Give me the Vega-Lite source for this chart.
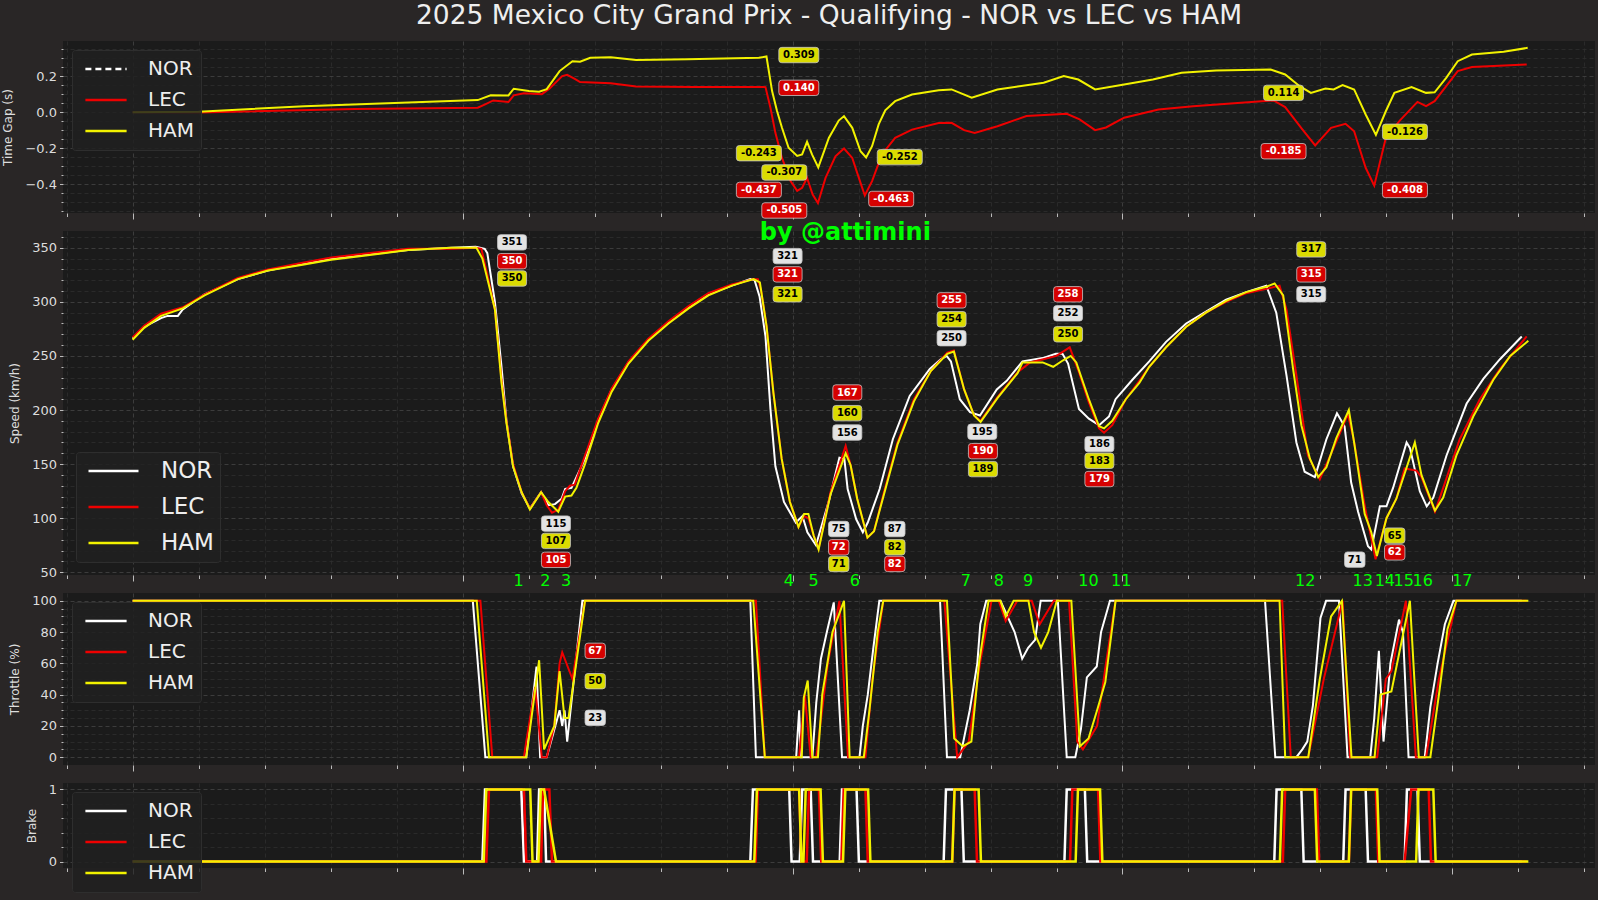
{
"$schema": "https://vega.github.io/schema/vega-lite/v6.json",
"background": "#292626",
"padding": {"left": 1, "top": 2, "right": 3, "bottom": 12},
"bounds": "flush",
"spacing": 18,
"config": {
  "view": {"stroke": null, "fill": "#1b1b1b"},
  "font": "DejaVu Sans",
  "axis": {"labelFont": "DejaVu Sans", "titleFont": "DejaVu Sans", "labelColor": "#dddddd", "titleColor": "#dddddd", "labelFontSize": 13, "titleFontSize": 12, "titleFontWeight": "normal", "domain": false, "labelOverlap": false, "labelBound": false, "tickColor": "#bbbbbb", "labelPadding": 3, "titlePadding": 10}
},
"resolve": {"scale": {"x": "independent", "y": "independent", "color": "independent", "fill": "independent"}, "legend": {"color": "independent"}, "axis": {"x": "independent", "y": "independent"}},
"datasets": {
  "gap": [
    {"distance":0,"driver":"LEC","value":0},{"distance":200,"driver":"LEC","value":-0.002},{"distance":674,"driver":"LEC","value":0.017},{"distance":1046,"driver":"LEC","value":0.025},{"distance":1070,"driver":"LEC","value":0.045},{"distance":1093,"driver":"LEC","value":0.065},{"distance":1139,"driver":"LEC","value":0.056},{"distance":1155,"driver":"LEC","value":0.093},{"distance":1186,"driver":"LEC","value":0.105},{"distance":1240,"driver":"LEC","value":0.1},{"distance":1263,"driver":"LEC","value":0.13},{"distance":1302,"driver":"LEC","value":0.2},{"distance":1317,"driver":"LEC","value":0.207},{"distance":1340,"driver":"LEC","value":0.185},{"distance":1356,"driver":"LEC","value":0.167},{"distance":1449,"driver":"LEC","value":0.16},{"distance":1526,"driver":"LEC","value":0.142},{"distance":1700,"driver":"LEC","value":0.14},{"distance":1913,"driver":"LEC","value":0.14},{"distance":1918,"driver":"LEC","value":0.139},{"distance":1933,"driver":"LEC","value":0.024},{"distance":1948,"driver":"LEC","value":-0.115},{"distance":1968,"driver":"LEC","value":-0.254},{"distance":1994,"driver":"LEC","value":-0.383},{"distance":2014,"driver":"LEC","value":-0.437},{"distance":2029,"driver":"LEC","value":-0.42},{"distance":2044,"driver":"LEC","value":-0.365},{"distance":2061,"driver":"LEC","value":-0.457},{"distance":2077,"driver":"LEC","value":-0.505},{"distance":2100,"driver":"LEC","value":-0.365},{"distance":2130,"driver":"LEC","value":-0.245},{"distance":2156,"driver":"LEC","value":-0.202},{"distance":2181,"driver":"LEC","value":-0.254},{"distance":2201,"driver":"LEC","value":-0.365},{"distance":2219,"driver":"LEC","value":-0.463},{"distance":2241,"driver":"LEC","value":-0.383},{"distance":2271,"driver":"LEC","value":-0.235},{"distance":2311,"driver":"LEC","value":-0.143},{"distance":2362,"driver":"LEC","value":-0.097},{"distance":2443,"driver":"LEC","value":-0.06},{"distance":2482,"driver":"LEC","value":-0.059},{"distance":2520,"driver":"LEC","value":-0.1},{"distance":2552,"driver":"LEC","value":-0.115},{"distance":2621,"driver":"LEC","value":-0.078},{"distance":2709,"driver":"LEC","value":-0.022},{"distance":2831,"driver":"LEC","value":-0.009},{"distance":2870,"driver":"LEC","value":-0.04},{"distance":2917,"driver":"LEC","value":-0.1},{"distance":2950,"driver":"LEC","value":-0.085},{"distance":3005,"driver":"LEC","value":-0.031},{"distance":3109,"driver":"LEC","value":0.015},{"distance":3214,"driver":"LEC","value":0.033},{"distance":3318,"driver":"LEC","value":0.046},{"distance":3458,"driver":"LEC","value":0.065},{"distance":3493,"driver":"LEC","value":0.028},{"distance":3545,"driver":"LEC","value":-0.096},{"distance":3584,"driver":"LEC","value":-0.185},{"distance":3632,"driver":"LEC","value":-0.087},{"distance":3676,"driver":"LEC","value":-0.065},{"distance":3702,"driver":"LEC","value":-0.106},{"distance":3737,"driver":"LEC","value":-0.309},{"distance":3763,"driver":"LEC","value":-0.408},{"distance":3798,"driver":"LEC","value":-0.143},{"distance":3841,"driver":"LEC","value":-0.046},{"distance":3894,"driver":"LEC","value":0.057},{"distance":3920,"driver":"LEC","value":0.033},{"distance":3946,"driver":"LEC","value":0.061},{"distance":4016,"driver":"LEC","value":0.228},{"distance":4059,"driver":"LEC","value":0.25},{"distance":4225,"driver":"LEC","value":0.265},
    {"distance":0,"driver":"HAM","value":0},{"distance":200,"driver":"HAM","value":0.002},{"distance":520,"driver":"HAM","value":0.033},{"distance":1046,"driver":"HAM","value":0.067},{"distance":1085,"driver":"HAM","value":0.094},{"distance":1139,"driver":"HAM","value":0.093},{"distance":1155,"driver":"HAM","value":0.13},{"distance":1201,"driver":"HAM","value":0.117},{"distance":1232,"driver":"HAM","value":0.113},{"distance":1255,"driver":"HAM","value":0.128},{"distance":1294,"driver":"HAM","value":0.228},{"distance":1333,"driver":"HAM","value":0.283},{"distance":1356,"driver":"HAM","value":0.28},{"distance":1387,"driver":"HAM","value":0.302},{"distance":1449,"driver":"HAM","value":0.305},{"distance":1526,"driver":"HAM","value":0.29},{"distance":1681,"driver":"HAM","value":0.294},{"distance":1898,"driver":"HAM","value":0.302},{"distance":1921,"driver":"HAM","value":0.309},{"distance":1938,"driver":"HAM","value":0.117},{"distance":1953,"driver":"HAM","value":0.006},{"distance":1968,"driver":"HAM","value":-0.087},{"distance":1988,"driver":"HAM","value":-0.198},{"distance":2014,"driver":"HAM","value":-0.243},{"distance":2029,"driver":"HAM","value":-0.235},{"distance":2044,"driver":"HAM","value":-0.165},{"distance":2059,"driver":"HAM","value":-0.235},{"distance":2078,"driver":"HAM","value":-0.307},{"distance":2110,"driver":"HAM","value":-0.143},{"distance":2140,"driver":"HAM","value":-0.047},{"distance":2156,"driver":"HAM","value":-0.022},{"distance":2181,"driver":"HAM","value":-0.087},{"distance":2206,"driver":"HAM","value":-0.217},{"distance":2223,"driver":"HAM","value":-0.252},{"distance":2241,"driver":"HAM","value":-0.189},{"distance":2261,"driver":"HAM","value":-0.068},{"distance":2281,"driver":"HAM","value":0.01},{"distance":2311,"driver":"HAM","value":0.061},{"distance":2362,"driver":"HAM","value":0.098},{"distance":2443,"driver":"HAM","value":0.122},{"distance":2482,"driver":"HAM","value":0.126},{"distance":2543,"driver":"HAM","value":0.08},{"distance":2621,"driver":"HAM","value":0.126},{"distance":2761,"driver":"HAM","value":0.163},{"distance":2822,"driver":"HAM","value":0.2},{"distance":2866,"driver":"HAM","value":0.181},{"distance":2917,"driver":"HAM","value":0.126},{"distance":3005,"driver":"HAM","value":0.154},{"distance":3092,"driver":"HAM","value":0.181},{"distance":3179,"driver":"HAM","value":0.219},{"distance":3284,"driver":"HAM","value":0.231},{"distance":3449,"driver":"HAM","value":0.237},{"distance":3493,"driver":"HAM","value":0.209},{"distance":3537,"driver":"HAM","value":0.144},{"distance":3571,"driver":"HAM","value":0.107},{"distance":3615,"driver":"HAM","value":0.131},{"distance":3640,"driver":"HAM","value":0.126},{"distance":3667,"driver":"HAM","value":0.15},{"distance":3702,"driver":"HAM","value":0.126},{"distance":3737,"driver":"HAM","value":-0.013},{"distance":3768,"driver":"HAM","value":-0.126},{"distance":3798,"driver":"HAM","value":0.005},{"distance":3824,"driver":"HAM","value":0.107},{"distance":3876,"driver":"HAM","value":0.139},{"distance":3920,"driver":"HAM","value":0.107},{"distance":3946,"driver":"HAM","value":0.11},{"distance":3981,"driver":"HAM","value":0.19},{"distance":4016,"driver":"HAM","value":0.283},{"distance":4059,"driver":"HAM","value":0.32},{"distance":4155,"driver":"HAM","value":0.335},{"distance":4228,"driver":"HAM","value":0.357}
  ],
  "gapLabels": [
    {"distance":2019,"value":0.317,"label":"0.309","driver":"HAM"},
    {"distance":2019,"value":0.135,"label":"0.140","driver":"LEC"},
    {"distance":1898,"value":-0.228,"label":"-0.243","driver":"HAM"},
    {"distance":1975,"value":-0.335,"label":"-0.307","driver":"HAM"},
    {"distance":1898,"value":-0.432,"label":"-0.437","driver":"LEC"},
    {"distance":1975,"value":-0.546,"label":"-0.505","driver":"LEC"},
    {"distance":2325,"value":-0.25,"label":"-0.252","driver":"HAM"},
    {"distance":2299,"value":-0.482,"label":"-0.463","driver":"LEC"},
    {"distance":3488,"value":0.107,"label":"0.114","driver":"HAM"},
    {"distance":3488,"value":-0.217,"label":"-0.185","driver":"LEC"},
    {"distance":3856,"value":-0.109,"label":"-0.126","driver":"HAM"},
    {"distance":3856,"value":-0.432,"label":"-0.408","driver":"LEC"}
  ],
  "speed": [
    {"distance":0,"driver":"NOR","value":266},{"distance":35,"driver":"NOR","value":277},{"distance":86,"driver":"NOR","value":285},{"distance":106,"driver":"NOR","value":287},{"distance":137,"driver":"NOR","value":287},{"distance":152,"driver":"NOR","value":293},{"distance":218,"driver":"NOR","value":307},{"distance":319,"driver":"NOR","value":321},{"distance":410,"driver":"NOR","value":329},{"distance":511,"driver":"NOR","value":335},{"distance":602,"driver":"NOR","value":340},{"distance":713,"driver":"NOR","value":344},{"distance":835,"driver":"NOR","value":348},{"distance":966,"driver":"NOR","value":350},{"distance":1040,"driver":"NOR","value":351},{"distance":1067,"driver":"NOR","value":349},{"distance":1075,"driver":"NOR","value":345},{"distance":1098,"driver":"NOR","value":300},{"distance":1118,"driver":"NOR","value":240},{"distance":1133,"driver":"NOR","value":190},{"distance":1153,"driver":"NOR","value":148},{"distance":1179,"driver":"NOR","value":123},{"distance":1204,"driver":"NOR","value":109},{"distance":1238,"driver":"NOR","value":124},{"distance":1260,"driver":"NOR","value":112},{"distance":1280,"driver":"NOR","value":113},{"distance":1300,"driver":"NOR","value":118},{"distance":1311,"driver":"NOR","value":127},{"distance":1330,"driver":"NOR","value":128},{"distance":1371,"driver":"NOR","value":155},{"distance":1411,"driver":"NOR","value":191},{"distance":1452,"driver":"NOR","value":219},{"distance":1503,"driver":"NOR","value":244},{"distance":1563,"driver":"NOR","value":265},{"distance":1624,"driver":"NOR","value":281},{"distance":1685,"driver":"NOR","value":295},{"distance":1745,"driver":"NOR","value":307},{"distance":1816,"driver":"NOR","value":315},{"distance":1872,"driver":"NOR","value":321},{"distance":1885,"driver":"NOR","value":320},{"distance":1900,"driver":"NOR","value":305},{"distance":1918,"driver":"NOR","value":268},{"distance":1933,"driver":"NOR","value":201},{"distance":1948,"driver":"NOR","value":148},{"distance":1974,"driver":"NOR","value":115},{"distance":2010,"driver":"NOR","value":96},{"distance":2030,"driver":"NOR","value":102},{"distance":2045,"driver":"NOR","value":87},{"distance":2071,"driver":"NOR","value":75},{"distance":2112,"driver":"NOR","value":118},{"distance":2142,"driver":"NOR","value":156},{"distance":2157,"driver":"NOR","value":155},{"distance":2167,"driver":"NOR","value":127},{"distance":2193,"driver":"NOR","value":99},{"distance":2213,"driver":"NOR","value":87},{"distance":2228,"driver":"NOR","value":96},{"distance":2264,"driver":"NOR","value":127},{"distance":2304,"driver":"NOR","value":173},{"distance":2355,"driver":"NOR","value":213},{"distance":2416,"driver":"NOR","value":238},{"distance":2450,"driver":"NOR","value":247},{"distance":2467,"driver":"NOR","value":250},{"distance":2480,"driver":"NOR","value":245},{"distance":2507,"driver":"NOR","value":210},{"distance":2538,"driver":"NOR","value":198},{"distance":2568,"driver":"NOR","value":195},{"distance":2619,"driver":"NOR","value":219},{"distance":2649,"driver":"NOR","value":227},{"distance":2697,"driver":"NOR","value":245},{"distance":2758,"driver":"NOR","value":248},{"distance":2798,"driver":"NOR","value":252},{"distance":2818,"driver":"NOR","value":252},{"distance":2835,"driver":"NOR","value":243},{"distance":2868,"driver":"NOR","value":201},{"distance":2898,"driver":"NOR","value":192},{"distance":2929,"driver":"NOR","value":186},{"distance":2959,"driver":"NOR","value":194},{"distance":2979,"driver":"NOR","value":210},{"distance":3030,"driver":"NOR","value":228},{"distance":3081,"driver":"NOR","value":245},{"distance":3132,"driver":"NOR","value":263},{"distance":3193,"driver":"NOR","value":280},{"distance":3253,"driver":"NOR","value":291},{"distance":3314,"driver":"NOR","value":302},{"distance":3375,"driver":"NOR","value":309},{"distance":3436,"driver":"NOR","value":315},{"distance":3466,"driver":"NOR","value":290},{"distance":3497,"driver":"NOR","value":232},{"distance":3527,"driver":"NOR","value":170},{"distance":3552,"driver":"NOR","value":143},{"distance":3583,"driver":"NOR","value":138},{"distance":3618,"driver":"NOR","value":173},{"distance":3650,"driver":"NOR","value":197},{"distance":3673,"driver":"NOR","value":185},{"distance":3693,"driver":"NOR","value":133},{"distance":3714,"driver":"NOR","value":106},{"distance":3744,"driver":"NOR","value":74},{"distance":3754,"driver":"NOR","value":71},{"distance":3780,"driver":"NOR","value":111},{"distance":3800,"driver":"NOR","value":111},{"distance":3820,"driver":"NOR","value":128},{"distance":3861,"driver":"NOR","value":170},{"distance":3871,"driver":"NOR","value":165},{"distance":3901,"driver":"NOR","value":125},{"distance":3922,"driver":"NOR","value":111},{"distance":3942,"driver":"NOR","value":119},{"distance":3982,"driver":"NOR","value":158},{"distance":4043,"driver":"NOR","value":206},{"distance":4094,"driver":"NOR","value":229},{"distance":4144,"driver":"NOR","value":247},{"distance":4210,"driver":"NOR","value":268},
    {"distance":0,"driver":"LEC","value":267},{"distance":35,"driver":"LEC","value":278},{"distance":86,"driver":"LEC","value":289},{"distance":152,"driver":"LEC","value":295},{"distance":218,"driver":"LEC","value":307},{"distance":319,"driver":"LEC","value":322},{"distance":410,"driver":"LEC","value":330},{"distance":511,"driver":"LEC","value":336},{"distance":602,"driver":"LEC","value":341},{"distance":713,"driver":"LEC","value":345},{"distance":835,"driver":"LEC","value":349},{"distance":966,"driver":"LEC","value":349},{"distance":1040,"driver":"LEC","value":350},{"distance":1057,"driver":"LEC","value":349},{"distance":1075,"driver":"LEC","value":325},{"distance":1098,"driver":"LEC","value":293},{"distance":1118,"driver":"LEC","value":228},{"distance":1133,"driver":"LEC","value":190},{"distance":1153,"driver":"LEC","value":150},{"distance":1179,"driver":"LEC","value":124},{"distance":1204,"driver":"LEC","value":109},{"distance":1238,"driver":"LEC","value":124},{"distance":1255,"driver":"LEC","value":112},{"distance":1271,"driver":"LEC","value":105},{"distance":1290,"driver":"LEC","value":108},{"distance":1311,"driver":"LEC","value":125},{"distance":1325,"driver":"LEC","value":130},{"distance":1340,"driver":"LEC","value":131},{"distance":1371,"driver":"LEC","value":158},{"distance":1411,"driver":"LEC","value":192},{"distance":1452,"driver":"LEC","value":220},{"distance":1503,"driver":"LEC","value":245},{"distance":1563,"driver":"LEC","value":266},{"distance":1624,"driver":"LEC","value":282},{"distance":1685,"driver":"LEC","value":296},{"distance":1745,"driver":"LEC","value":308},{"distance":1816,"driver":"LEC","value":316},{"distance":1882,"driver":"LEC","value":321},{"distance":1895,"driver":"LEC","value":321},{"distance":1905,"driver":"LEC","value":310},{"distance":1921,"driver":"LEC","value":278},{"distance":1942,"driver":"LEC","value":216},{"distance":1967,"driver":"LEC","value":155},{"distance":1992,"driver":"LEC","value":115},{"distance":2018,"driver":"LEC","value":92},{"distance":2035,"driver":"LEC","value":102},{"distance":2048,"driver":"LEC","value":100},{"distance":2064,"driver":"LEC","value":84},{"distance":2079,"driver":"LEC","value":72},{"distance":2115,"driver":"LEC","value":124},{"distance":2161,"driver":"LEC","value":167},{"distance":2176,"driver":"LEC","value":149},{"distance":2196,"driver":"LEC","value":118},{"distance":2227,"driver":"LEC","value":82},{"distance":2247,"driver":"LEC","value":88},{"distance":2277,"driver":"LEC","value":124},{"distance":2318,"driver":"LEC","value":170},{"distance":2368,"driver":"LEC","value":210},{"distance":2419,"driver":"LEC","value":236},{"distance":2469,"driver":"LEC","value":253},{"distance":2489,"driver":"LEC","value":255},{"distance":2520,"driver":"LEC","value":219},{"distance":2550,"driver":"LEC","value":195},{"distance":2570,"driver":"LEC","value":190},{"distance":2621,"driver":"LEC","value":212},{"distance":2682,"driver":"LEC","value":235},{"distance":2720,"driver":"LEC","value":244},{"distance":2760,"driver":"LEC","value":247},{"distance":2800,"driver":"LEC","value":250},{"distance":2840,"driver":"LEC","value":258},{"distance":2868,"driver":"LEC","value":235},{"distance":2898,"driver":"LEC","value":207},{"distance":2929,"driver":"LEC","value":183},{"distance":2944,"driver":"LEC","value":179},{"distance":2969,"driver":"LEC","value":186},{"distance":3010,"driver":"LEC","value":210},{"distance":3051,"driver":"LEC","value":227},{"distance":3081,"driver":"LEC","value":240},{"distance":3132,"driver":"LEC","value":258},{"distance":3193,"driver":"LEC","value":277},{"distance":3253,"driver":"LEC","value":290},{"distance":3314,"driver":"LEC","value":300},{"distance":3375,"driver":"LEC","value":308},{"distance":3436,"driver":"LEC","value":312},{"distance":3476,"driver":"LEC","value":315},{"distance":3497,"driver":"LEC","value":293},{"distance":3527,"driver":"LEC","value":232},{"distance":3562,"driver":"LEC","value":158},{"distance":3598,"driver":"LEC","value":136},{"distance":3640,"driver":"LEC","value":165},{"distance":3683,"driver":"LEC","value":196},{"distance":3700,"driver":"LEC","value":174},{"distance":3735,"driver":"LEC","value":110},{"distance":3767,"driver":"LEC","value":62},{"distance":3800,"driver":"LEC","value":100},{"distance":3830,"driver":"LEC","value":118},{"distance":3855,"driver":"LEC","value":146},{"distance":3891,"driver":"LEC","value":144},{"distance":3906,"driver":"LEC","value":138},{"distance":3947,"driver":"LEC","value":106},{"distance":3972,"driver":"LEC","value":128},{"distance":4022,"driver":"LEC","value":173},{"distance":4083,"driver":"LEC","value":210},{"distance":4144,"driver":"LEC","value":238},{"distance":4225,"driver":"LEC","value":268},
    {"distance":0,"driver":"HAM","value":265},{"distance":35,"driver":"HAM","value":276},{"distance":86,"driver":"HAM","value":287},{"distance":152,"driver":"HAM","value":294},{"distance":218,"driver":"HAM","value":306},{"distance":319,"driver":"HAM","value":321},{"distance":410,"driver":"HAM","value":329},{"distance":511,"driver":"HAM","value":334},{"distance":602,"driver":"HAM","value":339},{"distance":713,"driver":"HAM","value":343},{"distance":835,"driver":"HAM","value":348},{"distance":966,"driver":"HAM","value":350},{"distance":1042,"driver":"HAM","value":350},{"distance":1060,"driver":"HAM","value":340},{"distance":1098,"driver":"HAM","value":293},{"distance":1118,"driver":"HAM","value":225},{"distance":1133,"driver":"HAM","value":188},{"distance":1153,"driver":"HAM","value":148},{"distance":1179,"driver":"HAM","value":124},{"distance":1204,"driver":"HAM","value":108},{"distance":1238,"driver":"HAM","value":124},{"distance":1260,"driver":"HAM","value":115},{"distance":1290,"driver":"HAM","value":106},{"distance":1311,"driver":"HAM","value":120},{"distance":1330,"driver":"HAM","value":121},{"distance":1345,"driver":"HAM","value":128},{"distance":1371,"driver":"HAM","value":150},{"distance":1411,"driver":"HAM","value":188},{"distance":1452,"driver":"HAM","value":217},{"distance":1503,"driver":"HAM","value":243},{"distance":1563,"driver":"HAM","value":264},{"distance":1624,"driver":"HAM","value":280},{"distance":1685,"driver":"HAM","value":294},{"distance":1745,"driver":"HAM","value":306},{"distance":1816,"driver":"HAM","value":315},{"distance":1882,"driver":"HAM","value":321},{"distance":1901,"driver":"HAM","value":318},{"distance":1921,"driver":"HAM","value":278},{"distance":1942,"driver":"HAM","value":216},{"distance":1967,"driver":"HAM","value":155},{"distance":1992,"driver":"HAM","value":115},{"distance":2018,"driver":"HAM","value":92},{"distance":2035,"driver":"HAM","value":104},{"distance":2048,"driver":"HAM","value":104},{"distance":2064,"driver":"HAM","value":84},{"distance":2079,"driver":"HAM","value":71},{"distance":2115,"driver":"HAM","value":122},{"distance":2161,"driver":"HAM","value":160},{"distance":2176,"driver":"HAM","value":149},{"distance":2196,"driver":"HAM","value":118},{"distance":2227,"driver":"HAM","value":82},{"distance":2247,"driver":"HAM","value":88},{"distance":2277,"driver":"HAM","value":122},{"distance":2318,"driver":"HAM","value":168},{"distance":2368,"driver":"HAM","value":208},{"distance":2419,"driver":"HAM","value":236},{"distance":2469,"driver":"HAM","value":252},{"distance":2489,"driver":"HAM","value":254},{"distance":2520,"driver":"HAM","value":219},{"distance":2550,"driver":"HAM","value":195},{"distance":2570,"driver":"HAM","value":189},{"distance":2621,"driver":"HAM","value":211},{"distance":2682,"driver":"HAM","value":234},{"distance":2697,"driver":"HAM","value":244},{"distance":2758,"driver":"HAM","value":244},{"distance":2790,"driver":"HAM","value":240},{"distance":2820,"driver":"HAM","value":246},{"distance":2843,"driver":"HAM","value":250},{"distance":2860,"driver":"HAM","value":244},{"distance":2898,"driver":"HAM","value":210},{"distance":2929,"driver":"HAM","value":185},{"distance":2944,"driver":"HAM","value":183},{"distance":2969,"driver":"HAM","value":190},{"distance":3010,"driver":"HAM","value":210},{"distance":3051,"driver":"HAM","value":225},{"distance":3081,"driver":"HAM","value":240},{"distance":3132,"driver":"HAM","value":258},{"distance":3193,"driver":"HAM","value":277},{"distance":3253,"driver":"HAM","value":290},{"distance":3314,"driver":"HAM","value":301},{"distance":3375,"driver":"HAM","value":309},{"distance":3436,"driver":"HAM","value":314},{"distance":3461,"driver":"HAM","value":317},{"distance":3487,"driver":"HAM","value":306},{"distance":3517,"driver":"HAM","value":238},{"distance":3542,"driver":"HAM","value":186},{"distance":3568,"driver":"HAM","value":155},{"distance":3593,"driver":"HAM","value":138},{"distance":3618,"driver":"HAM","value":147},{"distance":3648,"driver":"HAM","value":174},{"distance":3686,"driver":"HAM","value":200},{"distance":3703,"driver":"HAM","value":168},{"distance":3734,"driver":"HAM","value":104},{"distance":3754,"driver":"HAM","value":87},{"distance":3771,"driver":"HAM","value":65},{"distance":3800,"driver":"HAM","value":100},{"distance":3830,"driver":"HAM","value":118},{"distance":3886,"driver":"HAM","value":170},{"distance":3906,"driver":"HAM","value":140},{"distance":3947,"driver":"HAM","value":107},{"distance":3972,"driver":"HAM","value":119},{"distance":4012,"driver":"HAM","value":158},{"distance":4063,"driver":"HAM","value":194},{"distance":4124,"driver":"HAM","value":228},{"distance":4175,"driver":"HAM","value":250},{"distance":4230,"driver":"HAM","value":264}
  ],
  "speedLabels": [
    {"distance":1150,"value":355,"label":"351","driver":"NOR"},
    {"distance":1150,"value":337.6,"label":"350","driver":"LEC"},
    {"distance":1150,"value":321.6,"label":"350","driver":"HAM"},
    {"distance":1283,"value":95,"label":"115","driver":"NOR"},
    {"distance":1283,"value":79,"label":"107","driver":"HAM"},
    {"distance":1283,"value":61.5,"label":"105","driver":"LEC"},
    {"distance":1985,"value":342.3,"label":"321","driver":"NOR"},
    {"distance":1985,"value":325.4,"label":"321","driver":"LEC"},
    {"distance":1985,"value":307,"label":"321","driver":"HAM"},
    {"distance":2166,"value":216.2,"label":"167","driver":"LEC"},
    {"distance":2166,"value":197.1,"label":"160","driver":"HAM"},
    {"distance":2166,"value":179.2,"label":"156","driver":"NOR"},
    {"distance":2140,"value":90,"label":"75","driver":"NOR"},
    {"distance":2140,"value":73.1,"label":"72","driver":"LEC"},
    {"distance":2140,"value":57.7,"label":"71","driver":"HAM"},
    {"distance":2310,"value":90,"label":"87","driver":"NOR"},
    {"distance":2310,"value":73.1,"label":"82","driver":"HAM"},
    {"distance":2310,"value":57.7,"label":"82","driver":"LEC"},
    {"distance":2482,"value":301.4,"label":"255","driver":"LEC"},
    {"distance":2482,"value":283.9,"label":"254","driver":"HAM"},
    {"distance":2482,"value":266.4,"label":"250","driver":"NOR"},
    {"distance":2575,"value":179.9,"label":"195","driver":"NOR"},
    {"distance":2577,"value":162,"label":"190","driver":"LEC"},
    {"distance":2577,"value":145.4,"label":"189","driver":"HAM"},
    {"distance":2835,"value":307,"label":"258","driver":"LEC"},
    {"distance":2835,"value":289.4,"label":"252","driver":"NOR"},
    {"distance":2835,"value":270,"label":"250","driver":"HAM"},
    {"distance":2930,"value":168.5,"label":"186","driver":"NOR"},
    {"distance":2930,"value":153.1,"label":"183","driver":"HAM"},
    {"distance":2930,"value":136.2,"label":"179","driver":"LEC"},
    {"distance":3572,"value":348.5,"label":"317","driver":"HAM"},
    {"distance":3572,"value":325.4,"label":"315","driver":"LEC"},
    {"distance":3572,"value":307,"label":"315","driver":"NOR"},
    {"distance":3704,"value":61.7,"label":"71","driver":"NOR"},
    {"distance":3825,"value":83.9,"label":"65","driver":"HAM"},
    {"distance":3825,"value":68.4,"label":"62","driver":"LEC"}
  ],
  "corners": [
    {"distance":1170,"value":42,"label":"1"},{"distance":1251,"value":42,"label":"2"},{"distance":1314,"value":42,"label":"3"},{"distance":1989,"value":42,"label":"4"},{"distance":2064,"value":42,"label":"5"},{"distance":2189,"value":42,"label":"6"},{"distance":2525,"value":42,"label":"7"},{"distance":2625,"value":42,"label":"8"},{"distance":2714,"value":42,"label":"9"},{"distance":2897,"value":42,"label":"10"},{"distance":2996,"value":42,"label":"11"},{"distance":3554,"value":42,"label":"12"},{"distance":3728,"value":42,"label":"13"},{"distance":3795,"value":42,"label":"14"},{"distance":3852,"value":42,"label":"15"},{"distance":3910,"value":42,"label":"16"},{"distance":4030,"value":42,"label":"17"}
  ],
  "watermark": [{"distance":2160,"value":364,"label":"by @attimini"}],
  "throttle": [
    {"distance":0,"driver":"NOR","value":100},{"distance":1031,"driver":"NOR","value":100},{"distance":1069,"driver":"NOR","value":0},{"distance":1193,"driver":"NOR","value":0},{"distance":1224,"driver":"NOR","value":58},{"distance":1235,"driver":"NOR","value":0},{"distance":1255,"driver":"NOR","value":0},{"distance":1294,"driver":"NOR","value":30},{"distance":1302,"driver":"NOR","value":20},{"distance":1309,"driver":"NOR","value":30},{"distance":1317,"driver":"NOR","value":10},{"distance":1363,"driver":"NOR","value":100},{"distance":1872,"driver":"NOR","value":100},{"distance":1889,"driver":"NOR","value":0},{"distance":2011,"driver":"NOR","value":0},{"distance":2020,"driver":"NOR","value":30},{"distance":2025,"driver":"NOR","value":0},{"distance":2060,"driver":"NOR","value":0},{"distance":2072,"driver":"NOR","value":35},{"distance":2086,"driver":"NOR","value":63},{"distance":2104,"driver":"NOR","value":80},{"distance":2125,"driver":"NOR","value":99},{"distance":2150,"driver":"NOR","value":0},{"distance":2203,"driver":"NOR","value":0},{"distance":2213,"driver":"NOR","value":20},{"distance":2228,"driver":"NOR","value":40},{"distance":2245,"driver":"NOR","value":70},{"distance":2263,"driver":"NOR","value":100},{"distance":2447,"driver":"NOR","value":100},{"distance":2468,"driver":"NOR","value":0},{"distance":2508,"driver":"NOR","value":0},{"distance":2537,"driver":"NOR","value":30},{"distance":2560,"driver":"NOR","value":60},{"distance":2569,"driver":"NOR","value":85},{"distance":2587,"driver":"NOR","value":100},{"distance":2630,"driver":"NOR","value":100},{"distance":2673,"driver":"NOR","value":80},{"distance":2696,"driver":"NOR","value":63},{"distance":2714,"driver":"NOR","value":70},{"distance":2735,"driver":"NOR","value":75},{"distance":2752,"driver":"NOR","value":100},{"distance":2804,"driver":"NOR","value":100},{"distance":2831,"driver":"NOR","value":0},{"distance":2857,"driver":"NOR","value":0},{"distance":2874,"driver":"NOR","value":18},{"distance":2892,"driver":"NOR","value":51},{"distance":2922,"driver":"NOR","value":58},{"distance":2935,"driver":"NOR","value":80},{"distance":2962,"driver":"NOR","value":100},{"distance":3432,"driver":"NOR","value":100},{"distance":3463,"driver":"NOR","value":0},{"distance":3527,"driver":"NOR","value":0},{"distance":3545,"driver":"NOR","value":5},{"distance":3560,"driver":"NOR","value":10},{"distance":3577,"driver":"NOR","value":33},{"distance":3600,"driver":"NOR","value":89},{"distance":3617,"driver":"NOR","value":100},{"distance":3656,"driver":"NOR","value":100},{"distance":3682,"driver":"NOR","value":0},{"distance":3751,"driver":"NOR","value":0},{"distance":3763,"driver":"NOR","value":25},{"distance":3777,"driver":"NOR","value":68},{"distance":3791,"driver":"NOR","value":10},{"distance":3812,"driver":"NOR","value":60},{"distance":3838,"driver":"NOR","value":88},{"distance":3850,"driver":"NOR","value":80},{"distance":3867,"driver":"NOR","value":0},{"distance":3916,"driver":"NOR","value":0},{"distance":3933,"driver":"NOR","value":32},{"distance":3955,"driver":"NOR","value":60},{"distance":3977,"driver":"NOR","value":85},{"distance":4003,"driver":"NOR","value":100},{"distance":4210,"driver":"NOR","value":100},
    {"distance":0,"driver":"LEC","value":100},{"distance":1054,"driver":"LEC","value":100},{"distance":1090,"driver":"LEC","value":0},{"distance":1186,"driver":"LEC","value":0},{"distance":1193,"driver":"LEC","value":10},{"distance":1220,"driver":"LEC","value":45},{"distance":1240,"driver":"LEC","value":0},{"distance":1255,"driver":"LEC","value":0},{"distance":1278,"driver":"LEC","value":20},{"distance":1294,"driver":"LEC","value":60},{"distance":1302,"driver":"LEC","value":67},{"distance":1333,"driver":"LEC","value":50},{"distance":1371,"driver":"LEC","value":100},{"distance":1889,"driver":"LEC","value":100},{"distance":1916,"driver":"LEC","value":0},{"distance":2020,"driver":"LEC","value":0},{"distance":2037,"driver":"LEC","value":40},{"distance":2055,"driver":"LEC","value":0},{"distance":2072,"driver":"LEC","value":0},{"distance":2107,"driver":"LEC","value":60},{"distance":2142,"driver":"LEC","value":100},{"distance":2168,"driver":"LEC","value":0},{"distance":2221,"driver":"LEC","value":0},{"distance":2242,"driver":"LEC","value":50},{"distance":2275,"driver":"LEC","value":100},{"distance":2460,"driver":"LEC","value":100},{"distance":2499,"driver":"LEC","value":0},{"distance":2534,"driver":"LEC","value":10},{"distance":2568,"driver":"LEC","value":60},{"distance":2603,"driver":"LEC","value":100},{"distance":2625,"driver":"LEC","value":100},{"distance":2646,"driver":"LEC","value":87},{"distance":2681,"driver":"LEC","value":100},{"distance":2725,"driver":"LEC","value":100},{"distance":2749,"driver":"LEC","value":85},{"distance":2792,"driver":"LEC","value":100},{"distance":2838,"driver":"LEC","value":100},{"distance":2863,"driver":"LEC","value":10},{"distance":2880,"driver":"LEC","value":5},{"distance":2923,"driver":"LEC","value":20},{"distance":2950,"driver":"LEC","value":60},{"distance":2979,"driver":"LEC","value":100},{"distance":3484,"driver":"LEC","value":100},{"distance":3510,"driver":"LEC","value":0},{"distance":3563,"driver":"LEC","value":0},{"distance":3610,"driver":"LEC","value":50},{"distance":3667,"driver":"LEC","value":100},{"distance":3690,"driver":"LEC","value":0},{"distance":3772,"driver":"LEC","value":0},{"distance":3798,"driver":"LEC","value":50},{"distance":3815,"driver":"LEC","value":55},{"distance":3859,"driver":"LEC","value":100},{"distance":3889,"driver":"LEC","value":0},{"distance":3920,"driver":"LEC","value":0},{"distance":3959,"driver":"LEC","value":50},{"distance":4012,"driver":"LEC","value":100},{"distance":4225,"driver":"LEC","value":100},
    {"distance":0,"driver":"HAM","value":100},{"distance":1043,"driver":"HAM","value":100},{"distance":1080,"driver":"HAM","value":0},{"distance":1193,"driver":"HAM","value":0},{"distance":1232,"driver":"HAM","value":62},{"distance":1247,"driver":"HAM","value":5},{"distance":1278,"driver":"HAM","value":20},{"distance":1294,"driver":"HAM","value":55},{"distance":1309,"driver":"HAM","value":25},{"distance":1321,"driver":"HAM","value":25},{"distance":1371,"driver":"HAM","value":100},{"distance":1881,"driver":"HAM","value":100},{"distance":1916,"driver":"HAM","value":0},{"distance":2028,"driver":"HAM","value":0},{"distance":2034,"driver":"HAM","value":38},{"distance":2046,"driver":"HAM","value":49},{"distance":2060,"driver":"HAM","value":0},{"distance":2077,"driver":"HAM","value":0},{"distance":2090,"driver":"HAM","value":40},{"distance":2121,"driver":"HAM","value":80},{"distance":2156,"driver":"HAM","value":100},{"distance":2173,"driver":"HAM","value":0},{"distance":2216,"driver":"HAM","value":0},{"distance":2233,"driver":"HAM","value":30},{"distance":2258,"driver":"HAM","value":80},{"distance":2275,"driver":"HAM","value":100},{"distance":2468,"driver":"HAM","value":100},{"distance":2490,"driver":"HAM","value":12},{"distance":2516,"driver":"HAM","value":7},{"distance":2542,"driver":"HAM","value":10},{"distance":2565,"driver":"HAM","value":60},{"distance":2594,"driver":"HAM","value":100},{"distance":2630,"driver":"HAM","value":100},{"distance":2646,"driver":"HAM","value":90},{"distance":2670,"driver":"HAM","value":100},{"distance":2715,"driver":"HAM","value":100},{"distance":2732,"driver":"HAM","value":80},{"distance":2753,"driver":"HAM","value":70},{"distance":2775,"driver":"HAM","value":80},{"distance":2801,"driver":"HAM","value":100},{"distance":2845,"driver":"HAM","value":100},{"distance":2871,"driver":"HAM","value":7},{"distance":2897,"driver":"HAM","value":12},{"distance":2923,"driver":"HAM","value":30},{"distance":2948,"driver":"HAM","value":48},{"distance":2979,"driver":"HAM","value":100},{"distance":3476,"driver":"HAM","value":100},{"distance":3493,"driver":"HAM","value":0},{"distance":3563,"driver":"HAM","value":0},{"distance":3598,"driver":"HAM","value":50},{"distance":3632,"driver":"HAM","value":90},{"distance":3665,"driver":"HAM","value":100},{"distance":3694,"driver":"HAM","value":0},{"distance":3764,"driver":"HAM","value":0},{"distance":3782,"driver":"HAM","value":40},{"distance":3815,"driver":"HAM","value":42},{"distance":3871,"driver":"HAM","value":100},{"distance":3898,"driver":"HAM","value":0},{"distance":3933,"driver":"HAM","value":0},{"distance":3959,"driver":"HAM","value":40},{"distance":3985,"driver":"HAM","value":82},{"distance":4012,"driver":"HAM","value":100},{"distance":4230,"driver":"HAM","value":100}
  ],
  "throttleLabels": [
    {"distance":1402,"value":68,"label":"67","driver":"LEC"},
    {"distance":1402,"value":48.6,"label":"50","driver":"HAM"},
    {"distance":1402,"value":25.2,"label":"23","driver":"NOR"}
  ],
  "brake": [
    {"distance":0,"driver":"NOR","value":0},{"distance":1060,"driver":"NOR","value":0},{"distance":1068,"driver":"NOR","value":1},{"distance":1178,"driver":"NOR","value":1},{"distance":1186,"driver":"NOR","value":0},{"distance":1226,"driver":"NOR","value":0},{"distance":1232,"driver":"NOR","value":1},{"distance":1247,"driver":"NOR","value":1},{"distance":1253,"driver":"NOR","value":0},{"distance":1872,"driver":"NOR","value":0},{"distance":1880,"driver":"NOR","value":1},{"distance":1990,"driver":"NOR","value":1},{"distance":1997,"driver":"NOR","value":0},{"distance":2022,"driver":"NOR","value":0},{"distance":2029,"driver":"NOR","value":1},{"distance":2055,"driver":"NOR","value":1},{"distance":2062,"driver":"NOR","value":0},{"distance":2143,"driver":"NOR","value":0},{"distance":2150,"driver":"NOR","value":1},{"distance":2194,"driver":"NOR","value":1},{"distance":2201,"driver":"NOR","value":0},{"distance":2458,"driver":"NOR","value":0},{"distance":2465,"driver":"NOR","value":1},{"distance":2512,"driver":"NOR","value":1},{"distance":2519,"driver":"NOR","value":0},{"distance":2824,"driver":"NOR","value":0},{"distance":2831,"driver":"NOR","value":1},{"distance":2886,"driver":"NOR","value":1},{"distance":2893,"driver":"NOR","value":0},{"distance":3460,"driver":"NOR","value":0},{"distance":3467,"driver":"NOR","value":1},{"distance":3542,"driver":"NOR","value":1},{"distance":3549,"driver":"NOR","value":0},{"distance":3669,"driver":"NOR","value":0},{"distance":3676,"driver":"NOR","value":1},{"distance":3737,"driver":"NOR","value":1},{"distance":3744,"driver":"NOR","value":0},{"distance":3855,"driver":"NOR","value":0},{"distance":3862,"driver":"NOR","value":1},{"distance":3894,"driver":"NOR","value":1},{"distance":3901,"driver":"NOR","value":0},{"distance":4210,"driver":"NOR","value":0},
    {"distance":0,"driver":"LEC","value":0},{"distance":1072,"driver":"LEC","value":0},{"distance":1080,"driver":"LEC","value":1},{"distance":1186,"driver":"LEC","value":1},{"distance":1193,"driver":"LEC","value":0},{"distance":1238,"driver":"LEC","value":0},{"distance":1244,"driver":"LEC","value":1},{"distance":1263,"driver":"LEC","value":1},{"distance":1271,"driver":"LEC","value":0},{"distance":1888,"driver":"LEC","value":0},{"distance":1895,"driver":"LEC","value":1},{"distance":2020,"driver":"LEC","value":1},{"distance":2027,"driver":"LEC","value":0},{"distance":2043,"driver":"LEC","value":0},{"distance":2050,"driver":"LEC","value":1},{"distance":2080,"driver":"LEC","value":1},{"distance":2087,"driver":"LEC","value":0},{"distance":2148,"driver":"LEC","value":0},{"distance":2155,"driver":"LEC","value":1},{"distance":2221,"driver":"LEC","value":1},{"distance":2228,"driver":"LEC","value":0},{"distance":2484,"driver":"LEC","value":0},{"distance":2491,"driver":"LEC","value":1},{"distance":2552,"driver":"LEC","value":1},{"distance":2559,"driver":"LEC","value":0},{"distance":2841,"driver":"LEC","value":0},{"distance":2848,"driver":"LEC","value":1},{"distance":2926,"driver":"LEC","value":1},{"distance":2933,"driver":"LEC","value":0},{"distance":3486,"driver":"LEC","value":0},{"distance":3493,"driver":"LEC","value":1},{"distance":3589,"driver":"LEC","value":1},{"distance":3596,"driver":"LEC","value":0},{"distance":3686,"driver":"LEC","value":0},{"distance":3693,"driver":"LEC","value":1},{"distance":3768,"driver":"LEC","value":1},{"distance":3775,"driver":"LEC","value":0},{"distance":3855,"driver":"LEC","value":0},{"distance":3875,"driver":"LEC","value":1},{"distance":3928,"driver":"LEC","value":1},{"distance":3935,"driver":"LEC","value":0},{"distance":4225,"driver":"LEC","value":0},
    {"distance":0,"driver":"HAM","value":0},{"distance":1064,"driver":"HAM","value":0},{"distance":1072,"driver":"HAM","value":1},{"distance":1205,"driver":"HAM","value":1},{"distance":1212,"driver":"HAM","value":0},{"distance":1230,"driver":"HAM","value":0},{"distance":1237,"driver":"HAM","value":1},{"distance":1247,"driver":"HAM","value":1},{"distance":1283,"driver":"HAM","value":0},{"distance":1884,"driver":"HAM","value":0},{"distance":1892,"driver":"HAM","value":1},{"distance":2020,"driver":"HAM","value":1},{"distance":2027,"driver":"HAM","value":0},{"distance":2033,"driver":"HAM","value":0},{"distance":2040,"driver":"HAM","value":1},{"distance":2085,"driver":"HAM","value":1},{"distance":2092,"driver":"HAM","value":0},{"distance":2153,"driver":"HAM","value":0},{"distance":2160,"driver":"HAM","value":1},{"distance":2229,"driver":"HAM","value":1},{"distance":2236,"driver":"HAM","value":0},{"distance":2484,"driver":"HAM","value":0},{"distance":2491,"driver":"HAM","value":1},{"distance":2564,"driver":"HAM","value":1},{"distance":2571,"driver":"HAM","value":0},{"distance":2858,"driver":"HAM","value":0},{"distance":2865,"driver":"HAM","value":1},{"distance":2932,"driver":"HAM","value":1},{"distance":2939,"driver":"HAM","value":0},{"distance":3477,"driver":"HAM","value":0},{"distance":3484,"driver":"HAM","value":1},{"distance":3583,"driver":"HAM","value":1},{"distance":3590,"driver":"HAM","value":0},{"distance":3686,"driver":"HAM","value":0},{"distance":3693,"driver":"HAM","value":1},{"distance":3772,"driver":"HAM","value":1},{"distance":3779,"driver":"HAM","value":0},{"distance":3890,"driver":"HAM","value":0},{"distance":3897,"driver":"HAM","value":1},{"distance":3942,"driver":"HAM","value":1},{"distance":3949,"driver":"HAM","value":0},{"distance":4230,"driver":"HAM","value":0}
  ]
},
"vconcat": [
  {
    "width": 1532, "height": 172,
    "title": {"text": "2025 Mexico City Grand Prix - Qualifying - NOR vs LEC vs HAM", "fontSize": 26.5, "font": "DejaVu Sans", "fontWeight": "normal", "color": "#eeeeee", "anchor": "middle", "frame": "group", "offset": 12},
    "layer": [
      {
        "data": {"name": "gap"},
        "mark": {"type": "line", "strokeWidth": 2},
        "encoding": {
          "x": {"field":"distance","type":"quantitative","scale":{"domain":[-211,4432],"nice":false,"zero":false},"axis":{"values":[-200,0,200,400,600,800,1000,1200,1400,1600,1800,2000,2200,2400,2600,2800,3000,3200,3400,3600,3800,4000,4200,4400],"tickCount":1000,"labels":false,"title":null,"tickWidth":1,"tickSize":{"condition":{"test":"datum.value % 1000 === 0","value":6},"value":3.5},"grid":true,"gridColor":{"condition":{"test":"datum.value % 1000 === 0","value":"#454545"},"value":"#2f2f2f"},"gridDash":[4,3],"gridWidth":0.8}},
          "y": {"field":"value","type":"quantitative","scale":{"domain":[-0.56,0.395],"nice":false,"zero":false},"axis":{"title":"Time Gap (s)","labelOverlap":false,"tickCount":1000,"values":[-0.55,-0.5,-0.45,-0.4,-0.35,-0.3,-0.25,-0.2,-0.15,-0.1,-0.05,0,0.05,0.1,0.15,0.2,0.25,0.3,0.35],"labelExpr":"abs(datum.value*5-round(datum.value*5))<0.001 ? format(datum.value,'.1f') : ''","labelFontSize":{"condition":{"test":"abs(datum.value*5-round(datum.value*5))<0.001","value":13},"value":0},"tickSize":{"condition":{"test":"abs(datum.value*5-round(datum.value*5))<0.001","value":3.5},"value":2},"grid":true,"gridColor":{"condition":{"test":"abs(datum.value*5-round(datum.value*5))<0.001","value":"#454545"},"value":"#2f2f2f"},"gridDash":[4,3],"gridWidth":0.8}},
          "color": {"field":"driver","type":"nominal","scale":{"domain":["NOR","LEC","HAM"],"range":["#ffffff","#ee0000","#f2f200"]},
            "legend":{"title":null,"orient":"top-left","offset":9,"fillColor":"rgba(32,32,32,0.85)","strokeColor":"#2e2e2e","cornerRadius":3,"padding":7,"clipHeight":24,"symbolType":"stroke","symbolSize":1700,"symbolStrokeWidth":2.5,"symbolOffset":5,"labelFontSize":20,"labelColor":"#eeeeee","labelFont":"DejaVu Sans","rowPadding":7,"labelOffset":20,"encode":{"symbols":{"update":{"strokeDash":{"signal":"datum.value === 'NOR' ? [6,4] : [1,0]"}}}}}}
        }
      },
      {
        "mark": {"type": "rule", "strokeWidth": 2, "strokeDash": [7,5]},
        "encoding": {
          "y": {"datum": 0, "type": "quantitative"},
          "color": {"datum": "NOR", "type": "nominal"}
        }
      },
      {
        "data": {"name": "gapLabels"},
        "transform": [{"filter": "length(datum.label) == 5"}],
        "mark": {"type": "point", "shape": "M-1.7,-0.77 L1.7,-0.77 Q2,-0.77 2,-0.47 L2,0.47 Q2,0.77 1.7,0.77 L-1.7,0.77 Q-2,0.77 -2,0.47 L-2,-0.47 Q-2,-0.77 -1.7,-0.77 Z", "size": 400, "filled": true, "opacity": 0.95, "stroke": "#cfcfcf", "strokeWidth": 0.8},
        "encoding": {
          "x": {"field":"distance","type":"quantitative"},
          "y": {"field":"value","type":"quantitative"},
          "fill": {"field":"driver","type":"nominal","scale":{"domain":["NOR","LEC","HAM"],"range":["#eeeeee","#e00000","#e6e600"]},"legend":null}
        }
      },
      {
        "data": {"name": "gapLabels"},
        "transform": [{"filter": "length(datum.label) == 6"}],
        "mark": {"type": "point", "shape": "M-1.95,-0.77 L1.95,-0.77 Q2.25,-0.77 2.25,-0.47 L2.25,0.47 Q2.25,0.77 1.95,0.77 L-1.95,0.77 Q-2.25,0.77 -2.25,0.47 L-2.25,-0.47 Q-2.25,-0.77 -1.95,-0.77 Z", "size": 400, "filled": true, "opacity": 0.95, "stroke": "#cfcfcf", "strokeWidth": 0.8},
        "encoding": {
          "x": {"field":"distance","type":"quantitative"},
          "y": {"field":"value","type":"quantitative"},
          "fill": {"field":"driver","type":"nominal","scale":{"domain":["NOR","LEC","HAM"],"range":["#eeeeee","#e00000","#e6e600"]},"legend":null}
        }
      },
      {
        "data": {"name": "gapLabels"},
        "mark": {"type": "text", "font": "DejaVu Sans", "fontSize": 10, "fontWeight": "bold", "align": "center", "baseline": "middle"},
        "encoding": {
          "x": {"field":"distance","type":"quantitative"},
          "y": {"field":"value","type":"quantitative"},
          "text": {"field": "label"},
          "color": {"condition": {"test": "datum.driver === 'LEC'", "value": "#ffffff"}, "value": "#000000"}
        }
      }
    ]
  },
  {
    "width": 1532, "height": 344,
    "layer": [
      {
        "data": {"name": "speed"},
        "mark": {"type": "line", "strokeWidth": 2},
        "encoding": {
          "x": {"field":"distance","type":"quantitative","scale":{"domain":[-211,4432],"nice":false,"zero":false},"axis":{"values":[-200,0,200,400,600,800,1000,1200,1400,1600,1800,2000,2200,2400,2600,2800,3000,3200,3400,3600,3800,4000,4200,4400],"tickCount":1000,"labels":false,"title":null,"tickWidth":1,"tickSize":{"condition":{"test":"datum.value % 1000 === 0","value":6},"value":3.5},"grid":true,"gridColor":{"condition":{"test":"datum.value % 1000 === 0","value":"#454545"},"value":"#2f2f2f"},"gridDash":[4,3],"gridWidth":0.8}},
          "y": {"field":"value","type":"quantitative","scale":{"domain":[47.5,365.5],"nice":false,"zero":false},"axis":{"title":"Speed (km/h)","labelOverlap":false,"tickCount":1000,"values":[50,60,70,80,90,100,110,120,130,140,150,160,170,180,190,200,210,220,230,240,250,260,270,280,290,300,310,320,330,340,350,360],"labelExpr":"datum.value % 50 === 0 ? format(datum.value,'d') : ''","labelFontSize":{"condition":{"test":"datum.value % 50 === 0","value":13},"value":0},"tickSize":{"condition":{"test":"datum.value % 50 === 0","value":3.5},"value":2},"grid":true,"gridColor":{"condition":{"test":"datum.value % 50 === 0","value":"#454545"},"value":"#2f2f2f"},"gridDash":[4,3],"gridWidth":0.8}},
          "color": {"field":"driver","type":"nominal","scale":{"domain":["NOR","LEC","HAM"],"range":["#ffffff","#ee0000","#f2f200"]},
            "legend":{"title":null,"orient":"bottom-left","offset":13,"fillColor":"rgba(32,32,32,0.85)","strokeColor":"#2e2e2e","cornerRadius":3,"padding":6,"clipHeight":26,"symbolType":"stroke","symbolSize":2500,"symbolStrokeWidth":2.5,"symbolOffset":5,"labelFontSize":23,"labelColor":"#eeeeee","labelFont":"DejaVu Sans","rowPadding":10,"labelOffset":21}}
        }
      },
      {
        "data": {"name": "speedLabels"},
        "transform": [{"filter": "length(datum.label) == 3"}],
        "mark": {"type": "point", "shape": "M-1.15,-0.77 L1.15,-0.77 Q1.45,-0.77 1.45,-0.47 L1.45,0.47 Q1.45,0.77 1.15,0.77 L-1.15,0.77 Q-1.45,0.77 -1.45,0.47 L-1.45,-0.47 Q-1.45,-0.77 -1.15,-0.77 Z", "size": 400, "filled": true, "opacity": 0.95, "stroke": "#cfcfcf", "strokeWidth": 0.8},
        "encoding": {
          "x": {"field":"distance","type":"quantitative"},
          "y": {"field":"value","type":"quantitative"},
          "fill": {"field":"driver","type":"nominal","scale":{"domain":["NOR","LEC","HAM"],"range":["#eeeeee","#e00000","#e6e600"]},"legend":null}
        }
      },
      {
        "data": {"name": "speedLabels"},
        "transform": [{"filter": "length(datum.label) == 2"}],
        "mark": {"type": "point", "shape": "M-0.72,-0.77 L0.72,-0.77 Q1.02,-0.77 1.02,-0.47 L1.02,0.47 Q1.02,0.77 0.72,0.77 L-0.72,0.77 Q-1.02,0.77 -1.02,0.47 L-1.02,-0.47 Q-1.02,-0.77 -0.72,-0.77 Z", "size": 400, "filled": true, "opacity": 0.95, "stroke": "#cfcfcf", "strokeWidth": 0.8},
        "encoding": {
          "x": {"field":"distance","type":"quantitative"},
          "y": {"field":"value","type":"quantitative"},
          "fill": {"field":"driver","type":"nominal","scale":{"domain":["NOR","LEC","HAM"],"range":["#eeeeee","#e00000","#e6e600"]},"legend":null}
        }
      },
      {
        "data": {"name": "speedLabels"},
        "mark": {"type": "text", "font": "DejaVu Sans", "fontSize": 10, "fontWeight": "bold", "align": "center", "baseline": "middle"},
        "encoding": {
          "x": {"field":"distance","type":"quantitative"},
          "y": {"field":"value","type":"quantitative"},
          "text": {"field": "label"},
          "color": {"condition": {"test": "datum.driver === 'LEC'", "value": "#ffffff"}, "value": "#000000"}
        }
      },
      {
        "data": {"name": "corners"},
        "mark": {"type": "text", "font": "DejaVu Sans", "fontSize": 16, "color": "#00ff00", "align": "center", "baseline": "middle"},
        "encoding": {
          "x": {"field":"distance","type":"quantitative"},
          "y": {"field":"value","type":"quantitative"},
          "text": {"field": "label"}
        }
      },
      {
        "data": {"name": "watermark"},
        "mark": {"type": "text", "font": "DejaVu Sans", "fontSize": 24, "fontWeight": "bold", "color": "#00ff00", "align": "center", "baseline": "middle"},
        "encoding": {
          "x": {"field":"distance","type":"quantitative"},
          "y": {"field":"value","type":"quantitative"},
          "text": {"field": "label"}
        }
      }
    ]
  },
  {
    "width": 1532, "height": 172,
    "layer": [
      {
        "data": {"name": "throttle"},
        "mark": {"type": "line", "strokeWidth": 2},
        "encoding": {
          "x": {"field":"distance","type":"quantitative","scale":{"domain":[-211,4432],"nice":false,"zero":false},"axis":{"values":[-200,0,200,400,600,800,1000,1200,1400,1600,1800,2000,2200,2400,2600,2800,3000,3200,3400,3600,3800,4000,4200,4400],"tickCount":1000,"labels":false,"title":null,"tickWidth":1,"tickSize":{"condition":{"test":"datum.value % 1000 === 0","value":6},"value":3.5},"grid":true,"gridColor":{"condition":{"test":"datum.value % 1000 === 0","value":"#454545"},"value":"#2f2f2f"},"gridDash":[4,3],"gridWidth":0.8}},
          "y": {"field":"value","type":"quantitative","scale":{"domain":[-5,105],"nice":false,"zero":false},"axis":{"title":"Throttle (%)","labelOverlap":false,"tickCount":1000,"values":[0,5,10,15,20,25,30,35,40,45,50,55,60,65,70,75,80,85,90,95,100],"labelExpr":"datum.value % 20 === 0 ? format(datum.value,'d') : ''","labelFontSize":{"condition":{"test":"datum.value % 20 === 0","value":13},"value":0},"tickSize":{"condition":{"test":"datum.value % 20 === 0","value":3.5},"value":2},"grid":true,"gridColor":{"condition":{"test":"datum.value % 20 === 0","value":"#454545"},"value":"#2f2f2f"},"gridDash":[4,3],"gridWidth":0.8}},
          "color": {"field":"driver","type":"nominal","scale":{"domain":["NOR","LEC","HAM"],"range":["#ffffff","#ee0000","#f2f200"]},
            "legend":{"title":null,"orient":"top-left","offset":9,"fillColor":"rgba(32,32,32,0.85)","strokeColor":"#2e2e2e","cornerRadius":3,"padding":7,"clipHeight":24,"symbolType":"stroke","symbolSize":1700,"symbolStrokeWidth":2.5,"symbolOffset":5,"labelFontSize":20,"labelColor":"#eeeeee","labelFont":"DejaVu Sans","rowPadding":7,"labelOffset":20}}
        }
      },
      {
        "data": {"name": "throttleLabels"},
        "mark": {"type": "point", "shape": "M-0.72,-0.77 L0.72,-0.77 Q1.02,-0.77 1.02,-0.47 L1.02,0.47 Q1.02,0.77 0.72,0.77 L-0.72,0.77 Q-1.02,0.77 -1.02,0.47 L-1.02,-0.47 Q-1.02,-0.77 -0.72,-0.77 Z", "size": 400, "filled": true, "opacity": 0.95, "stroke": "#cfcfcf", "strokeWidth": 0.8},
        "encoding": {
          "x": {"field":"distance","type":"quantitative"},
          "y": {"field":"value","type":"quantitative"},
          "fill": {"field":"driver","type":"nominal","scale":{"domain":["NOR","LEC","HAM"],"range":["#eeeeee","#e00000","#e6e600"]},"legend":null}
        }
      },
      {
        "data": {"name": "throttleLabels"},
        "mark": {"type": "text", "font": "DejaVu Sans", "fontSize": 10, "fontWeight": "bold", "align": "center", "baseline": "middle"},
        "encoding": {
          "x": {"field":"distance","type":"quantitative"},
          "y": {"field":"value","type":"quantitative"},
          "text": {"field": "label"},
          "color": {"condition": {"test": "datum.driver === 'LEC'", "value": "#ffffff"}, "value": "#000000"}
        }
      }
    ]
  },
  {
    "width": 1532, "height": 85,
    "data": {"name": "brake"},
    "mark": {"type": "line", "strokeWidth": 2.5},
    "encoding": {
      "x": {"field":"distance","type":"quantitative","scale":{"domain":[-211,4432],"nice":false,"zero":false},"axis":{"values":[-200,0,200,400,600,800,1000,1200,1400,1600,1800,2000,2200,2400,2600,2800,3000,3200,3400,3600,3800,4000,4200,4400],"tickCount":1000,"labels":false,"title":null,"tickWidth":1,"tickSize":{"condition":{"test":"datum.value % 1000 === 0","value":6},"value":3.5},"grid":true,"gridColor":{"condition":{"test":"datum.value % 1000 === 0","value":"#454545"},"value":"#2f2f2f"},"gridDash":[4,3],"gridWidth":0.8}},
      "y": {"field":"value","type":"quantitative","scale":{"domain":[-0.09,1.09],"nice":false,"zero":false},"axis":{"title":"Brake","labelOverlap":false,"tickCount":1000,"values":[0,0.2,0.4,0.6,0.8,1],"labelExpr":"datum.value === 0 ? '0' : (datum.value === 1 ? '1' : '')","labelFontSize":{"condition":{"test":"datum.value === 0 || datum.value === 1","value":13},"value":0},"tickSize":{"condition":{"test":"datum.value === 0 || datum.value === 1","value":3.5},"value":2},"grid":true,"gridColor":{"condition":{"test":"datum.value === 0 || datum.value === 1","value":"#454545"},"value":"#2f2f2f"},"gridDash":[4,3],"gridWidth":0.8}},
      "color": {"field":"driver","type":"nominal","scale":{"domain":["NOR","LEC","HAM"],"range":["#ffffff","#ee0000","#f2f200"]},
        "legend":{"title":null,"orient":"top-left","offset":9,"fillColor":"rgba(32,32,32,0.85)","strokeColor":"#2e2e2e","cornerRadius":3,"padding":7,"clipHeight":24,"symbolType":"stroke","symbolSize":1700,"symbolStrokeWidth":2.5,"symbolOffset":5,"labelFontSize":20,"labelColor":"#eeeeee","labelFont":"DejaVu Sans","rowPadding":7,"labelOffset":20}}
    }
  }
]
}
